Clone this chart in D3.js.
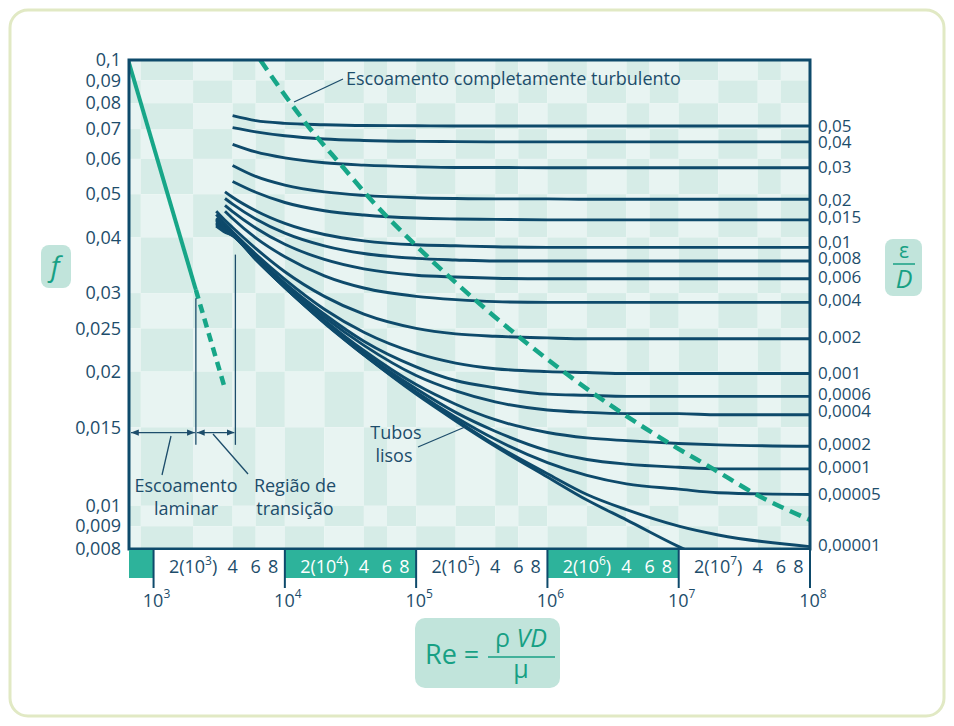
<!DOCTYPE html>
<html>
<head>
<meta charset="utf-8">
<script src="https://cdn.jsdelivr.net/npm/d3@7"></script>
<style>
  body { margin: 0; background: #fff; }
  svg { display: block; font-family: "Open Sans", sans-serif; }
</style>
</head>
<body>
<div id="chart"></div>
<script>
// Reynolds numbers at which every roughness curve was read
var reGrid = [3000, 3500, 4000, 6000, 1e4, 2e4, 4e4, 1e5, 2e5, 4e5, 1e6, 2e6, 4e6, 1e7, 2e7, 1e8];

// relative roughness labels (right axis), top to bottom
var roughLabels = ["0,05", "0,04", "0,03", "0,02", "0,015", "0,01", "0,008", "0,006", "0,004",
    "0,002", "0,001", "0,0006", "0,0004", "0,0002", "0,0001", "0,00005", "0,00001"];
// small vertical shift of each right label against its curve end (px)
var labelNudge = [0, 0, -1, 1, -3, -5, -3, -2, -2, -2, -1, -2, -4, -2, -2, -1, -2];

// friction factor f read for each curve along reGrid (null = curve not drawn there)
var curveF = [
    [null, null, 0.0750, 0.0731, 0.0721, 0.0716, 0.0713, 0.0712, 0.0711, 0.0711, 0.0711, 0.0711, 0.0711, 0.0711, 0.0711, 0.0711],
    [null, null, 0.0705, 0.0690, 0.0676, 0.0665, 0.0660, 0.0657, 0.0656, 0.0655, 0.0655, 0.0655, 0.0655, 0.0655, 0.0655, 0.0655],
    [null, null, 0.0647, 0.0622, 0.0603, 0.0588, 0.0581, 0.0576, 0.0574, 0.0574, 0.0573, 0.0573, 0.0573, 0.0573, 0.0573, 0.0573],
    [null, null, 0.0580, 0.0548, 0.0524, 0.0506, 0.0497, 0.0491, 0.0489, 0.0488, 0.0488, 0.0487, 0.0487, 0.0487, 0.0487, 0.0487],
    [null, null, 0.0534, 0.0505, 0.0479, 0.0459, 0.0449, 0.0442, 0.0440, 0.0439, 0.0438, 0.0438, 0.0438, 0.0438, 0.0438, 0.0438],
    [null, 0.0506, 0.0492, 0.0459, 0.0430, 0.0406, 0.0393, 0.0385, 0.0383, 0.0381, 0.0380, 0.0380, 0.0380, 0.0380, 0.0380, 0.0380],
    [null, 0.0489, 0.0475, 0.0440, 0.0409, 0.0383, 0.0368, 0.0359, 0.0356, 0.0354, 0.0354, 0.0354, 0.0354, 0.0354, 0.0354, 0.0354],
    [null, 0.0472, 0.0457, 0.0420, 0.0386, 0.0357, 0.0340, 0.0329, 0.0326, 0.0324, 0.0323, 0.0323, 0.0323, 0.0323, 0.0323, 0.0323],
    [null, 0.0458, 0.0441, 0.0399, 0.0362, 0.0328, 0.0308, 0.0295, 0.0290, 0.0287, 0.0286, 0.0286, 0.0286, 0.0286, 0.0286, 0.0286],
    [0.0458, 0.0437, 0.0421, 0.0378, 0.0335, 0.0295, 0.0269, 0.0250, 0.0243, 0.0240, 0.0238, 0.0237, 0.0237, 0.0237, 0.0237, 0.0237],
    [0.0450, 0.0429, 0.0412, 0.0367, 0.0322, 0.0276, 0.0245, 0.0220, 0.0209, 0.0203, 0.0200, 0.0199, 0.0198, 0.0198, 0.0198, 0.0198],
    [0.0442, 0.0424, 0.0409, 0.0363, 0.0316, 0.0269, 0.0234, 0.0205, 0.0191, 0.0184, 0.0178, 0.0177, 0.0176, 0.0176, 0.0176, 0.0176],
    [0.0439, 0.0421, 0.0407, 0.0361, 0.0314, 0.0265, 0.0229, 0.0196, 0.0181, 0.0171, 0.0164, 0.0162, 0.0161, 0.0161, 0.0160, 0.0160],
    [0.0436, 0.0419, 0.0406, 0.0359, 0.0311, 0.0261, 0.0223, 0.0187, 0.0169, 0.0156, 0.0146, 0.0142, 0.0140, 0.0138, 0.0137, 0.0136],
    [0.0433, 0.0417, 0.0405, 0.0358, 0.0310, 0.0259, 0.0220, 0.0183, 0.0162, 0.0147, 0.0133, 0.0127, 0.0124, 0.0122, 0.0121, 0.0121],
    [0.0430, 0.0415, 0.0405, 0.0358, 0.0309, 0.0258, 0.0219, 0.0180, 0.0158, 0.0141, 0.0125, 0.0117, 0.0112, 0.0109, 0.0107, 0.0106],
    [0.0427, 0.0413, 0.0404, 0.0357, 0.0309, 0.0258, 0.0218, 0.0179, 0.0156, 0.0137, 0.0118, 0.0106, 0.0098, 0.0090, 0.0086, 0.0081]
];

// smooth pipe ("Tubos lisos")
var smoothRe = [3000, 3500, 4000, 6000, 1e4, 2e4, 4e4, 1e5, 2e5, 4e5, 1e6, 2e6, 4e6, 1e7, 1.2e7];
var smoothF = [0.0424, 0.0411, 0.0404, 0.0357, 0.0309, 0.0257, 0.0218, 0.0178, 0.0155, 0.0136, 0.0116, 0.0103, 0.0093, 0.0081, 0.0079];

// laminar flow line (solid, then dashed)
var laminarRe = [640, 2100];
var laminarF = [0.1, 0.0305];
var laminarDashRe = [2100, 3500];
var laminarDashF = [0.0305, 0.0183];

// fully turbulent boundary (dashed)
var turbRe = [6500, 15000, 28000, 45000, 103000, 300000, 1.42e6, 8.5e6, 1.83e7, 3.9e7, 1e8];
var turbF = [0.1, 0.0711, 0.0573, 0.0487, 0.0380, 0.0285, 0.0197, 0.0138, 0.0121, 0.0106, 0.0093];

// left axis ticks
var fTicks = [0.1, 0.09, 0.08, 0.07, 0.06, 0.05, 0.04, 0.03, 0.025, 0.02, 0.015, 0.01, 0.009, 0.008];
var fTickLabels = ["0,1", "0,09", "0,08", "0,07", "0,06", "0,05", "0,04", "0,03", "0,025", "0,02", "0,015", "0,01", "0,009", "0,008"];

// bottom axis
var decadeExp = [3, 4, 5, 6, 7, 8];
var minorMult = [2, 4, 6, 8];

// background checker boundaries
var gridRe = [650, 800, 2000, 4000, 6000, 1e4, 2e4, 4e4, 6e4, 1e5, 2e5, 4e5, 6e5, 1e6,
    2e6, 4e6, 6e6, 1e7, 2e7, 4e7, 6e7, 1e8];

var W = 954, H = 726;
var dark = "#0e4a6b", textCol = "#1d4d6b", green = "#17a688", teal = "#2db39b";

var svg = d3.select("#chart").append("svg")
    .attr("width", W).attr("height", H);

// outer card
svg.append("rect")
    .attr("x", 10).attr("y", 10).attr("width", W - 20).attr("height", H - 20)
    .attr("rx", 18).attr("fill", "#fff")
    .attr("stroke", "#e1e9c4").attr("stroke-width", 3);

var x = d3.scaleLog().domain([650, 1e8]).range([129, 810]);
var y = d3.scaleLog().domain([0.008, 0.1]).range([549, 60]);

// checkerboard background
var cells = [];
for (var i = 0; i < gridRe.length - 1; i++) {
    for (var j = 0; j < fTicks.length - 1; j++) {
        cells.push({ x0: gridRe[i], x1: gridRe[i + 1], y0: fTicks[j], y1: fTicks[j + 1], k: (i + j) % 2 });
    }
}
svg.append("g").selectAll("rect")
    .data(cells)
    .enter()
    .append("rect")
    .attr("x", function (d) { return x(d.x0); })
    .attr("y", function (d) { return y(d.y0); })
    .attr("width", function (d) { return x(d.x1) - x(d.x0); })
    .attr("height", function (d) { return y(d.y1) - y(d.y0); })
    .attr("fill", function (d) { return d.k ? "#d6ece7" : "#e8f4f2"; });

// clip
svg.append("clipPath").attr("id", "plot")
    .append("rect").attr("x", 129).attr("y", 60).attr("width", 681).attr("height", 489);

var line = d3.line()
    .defined(function (d) { return d[1] != null; })
    .x(function (d) { return x(d[0]); })
    .y(function (d) { return y(d[1]); })
    .curve(d3.curveMonotoneX);

var curves = svg.append("g").attr("clip-path", "url(#plot)");

// roughness curves
curves.selectAll("path.rough")
    .data(curveF)
    .enter()
    .append("path")
    .attr("class", "rough")
    .attr("d", function (vals) { return line(reGrid.map(function (r, i) { return [r, vals[i]]; })); })
    .attr("fill", "none").attr("stroke", dark).attr("stroke-width", 2.9);

curves.append("path")
    .attr("d", line(smoothRe.map(function (r, i) { return [r, smoothF[i]]; })))
    .attr("fill", "none").attr("stroke", dark).attr("stroke-width", 2.9);

// laminar
curves.append("path")
    .attr("d", line(laminarRe.map(function (r, i) { return [r, laminarF[i]]; })))
    .attr("fill", "none").attr("stroke", green).attr("stroke-width", 4);
curves.append("path")
    .attr("d", line(laminarDashRe.map(function (r, i) { return [r, laminarDashF[i]]; })))
    .attr("fill", "none").attr("stroke", green).attr("stroke-width", 4.5)
    .attr("stroke-dasharray", "9,6");

// fully turbulent
curves.append("path")
    .attr("d", line(turbRe.map(function (r, i) { return [r, turbF[i]]; })))
    .attr("fill", "none").attr("stroke", green).attr("stroke-width", 4.5)
    .attr("stroke-dasharray", "12,7");

// plot frame
svg.append("rect")
    .attr("x", 129).attr("y", 60).attr("width", 681).attr("height", 489)
    .attr("fill", "none").attr("stroke", dark).attr("stroke-width", 3);

// bottom strip
var segs = [[650, 1e3]].concat(decadeExp.slice(0, 5).map(function (e) { return [Math.pow(10, e), Math.pow(10, e + 1)]; }));
svg.append("g").selectAll("rect")
    .data(segs)
    .enter()
    .append("rect")
    .attr("x", function (d) { return x(d[0]); })
    .attr("y", 550)
    .attr("width", function (d) { return x(d[1]) - x(d[0]); })
    .attr("height", 28)
    .attr("fill", function (d, i) { return i % 2 == 0 ? teal : "#fff"; });

// decade dividers
svg.append("g").selectAll("line")
    .data(decadeExp)
    .enter()
    .append("line")
    .attr("x1", function (e) { return x(Math.pow(10, e)); })
    .attr("x2", function (e) { return x(Math.pow(10, e)); })
    .attr("y1", 549).attr("y2", 588)
    .attr("stroke", dark).attr("stroke-width", 2);

// strip labels 2(10^n) 4 6 8
decadeExp.slice(0, 5).forEach(function (e) {
    var base = Math.pow(10, e);
    var col = (e % 2 == 0) ? "#fff" : textCol;
    minorMult.forEach(function (m) {
        var t = svg.append("text")
            .attr("x", x(m * base) + (m == 8 ? 1 : 0)).attr("y", 573)
            .attr("text-anchor", "middle")
            .attr("font-size", 18).attr("fill", col);
        if (m == 2) {
            t.append("tspan").text("2(10");
            t.append("tspan").attr("dy", -8).attr("font-size", 12).text(e);
            t.append("tspan").attr("dy", 8).text(")");
        } else {
            t.text(m);
        }
    });
});

// decade labels
decadeExp.forEach(function (e) {
    var t = svg.append("text")
        .attr("x", x(Math.pow(10, e)) + 3).attr("y", 607)
        .attr("text-anchor", "middle")
        .attr("font-size", 18).attr("fill", textCol);
    t.append("tspan").text("10");
    t.append("tspan").attr("dy", -9).attr("font-size", 12).text(e);
});

// left axis
var yAxis = svg.append("g")
    .attr("transform", "translate(129,0)")
    .call(d3.axisLeft(y).tickValues(fTicks)
        .tickFormat(function (d, i) { return fTickLabels[i]; })
        .tickSize(0).tickPadding(8));
yAxis.select(".domain").remove();
yAxis.selectAll("text")
    .attr("font-family", "Open Sans").attr("font-size", 18).attr("fill", textCol);

// right labels
svg.append("g").selectAll("text")
    .data(curveF)
    .enter()
    .append("text")
    .attr("x", 818)
    .attr("y", function (vals, i) { return y(vals[vals.length - 1]) + labelNudge[i]; })
    .attr("dy", "0.36em")
    .attr("font-size", 17).attr("fill", textCol)
    .text(function (d, i) { return roughLabels[i]; });

// annotations
var ann = svg.append("g").attr("stroke", textCol).attr("stroke-width", 1.3).attr("fill", "none");
var defs = svg.append("defs");
defs.append("marker").attr("id", "arr")
    .attr("viewBox", "0 0 10 10").attr("refX", 10).attr("refY", 5)
    .attr("markerWidth", 6).attr("markerHeight", 6).attr("orient", "auto-start-reverse")
    .append("path").attr("d", "M0,1L10,5L0,9Z").attr("fill", textCol);

var fArrow = 0.0146;
ann.append("line").attr("x1", x(2100)).attr("x2", x(2100)).attr("y1", y(0.0292)).attr("y2", y(0.0137));
ann.append("line").attr("x1", x(4200)).attr("x2", x(4200)).attr("y1", y(0.0366)).attr("y2", y(0.0137));
ann.append("line").attr("x1", x(650) + 2).attr("x2", x(2100) - 1).attr("y1", y(fArrow)).attr("y2", y(fArrow))
    .attr("marker-start", "url(#arr)").attr("marker-end", "url(#arr)");
ann.append("line").attr("x1", x(2100) + 1).attr("x2", x(4200) - 1).attr("y1", y(fArrow)).attr("y2", y(fArrow))
    .attr("marker-start", "url(#arr)").attr("marker-end", "url(#arr)");
// leaders
ann.append("line").attr("x1", 171).attr("y1", 436).attr("x2", 162).attr("y2", 475);
ann.append("line").attr("x1", 213).attr("y1", 434).attr("x2", 248).attr("y2", 474);
ann.append("line").attr("x1", 418).attr("y1", 447).attr("x2", 465).attr("y2", 427);
ann.append("line").attr("x1", 294).attr("y1", 102).attr("x2", 343).attr("y2", 79);

function label(tx, ty, s, anchor) {
    svg.append("text").attr("x", tx).attr("y", ty)
        .attr("text-anchor", anchor || "middle")
        .attr("font-size", 18).attr("fill", textCol).text(s);
}
label(186, 492, "Escoamento");
label(186, 515, "laminar");
label(295, 492, "Região de");
label(295, 515, "transição");
label(396, 439, "Tubos");
label(394, 462, "lisos");
label(346, 85, "Escoamento completamente turbulento", "start");

// axis title boxes
var accent = "#17a084", boxFill = "#c1e4db";
svg.append("rect").attr("x", 41).attr("y", 245).attr("width", 30).attr("height", 43).attr("rx", 8).attr("fill", boxFill);
svg.append("text").attr("x", 55).attr("y", 276).attr("text-anchor", "middle")
    .attr("font-size", 28).attr("font-style", "italic").attr("fill", accent).text("f");

svg.append("rect").attr("x", 885).attr("y", 239).attr("width", 37).attr("height", 57).attr("rx", 8).attr("fill", boxFill);
svg.append("text").attr("x", 904).attr("y", 258).attr("text-anchor", "middle")
    .attr("font-size", 21).attr("fill", accent).text("ε");
svg.append("line").attr("x1", 893).attr("x2", 915).attr("y1", 264).attr("y2", 264)
    .attr("stroke", accent).attr("stroke-width", 1.5);
svg.append("text").attr("x", 904).attr("y", 288).attr("text-anchor", "middle")
    .attr("font-size", 25).attr("font-style", "italic").attr("fill", accent).text("D");

svg.append("rect").attr("x", 415).attr("y", 618).attr("width", 145).attr("height", 70).attr("rx", 10).attr("fill", boxFill);
svg.append("text").attr("x", 425).attr("y", 664)
    .attr("font-size", 27).attr("fill", accent).text("Re =");
var num = svg.append("text").attr("x", 521).attr("y", 647).attr("text-anchor", "middle")
    .attr("font-size", 25).attr("fill", accent);
num.append("tspan").text("ρ ");
num.append("tspan").attr("font-style", "italic").text("VD");
svg.append("line").attr("x1", 488).attr("x2", 555).attr("y1", 657).attr("y2", 657)
    .attr("stroke", accent).attr("stroke-width", 1.5);
svg.append("text").attr("x", 521).attr("y", 678).attr("text-anchor", "middle")
    .attr("font-size", 25).attr("fill", accent).text("μ");
</script>
</body>
</html>
